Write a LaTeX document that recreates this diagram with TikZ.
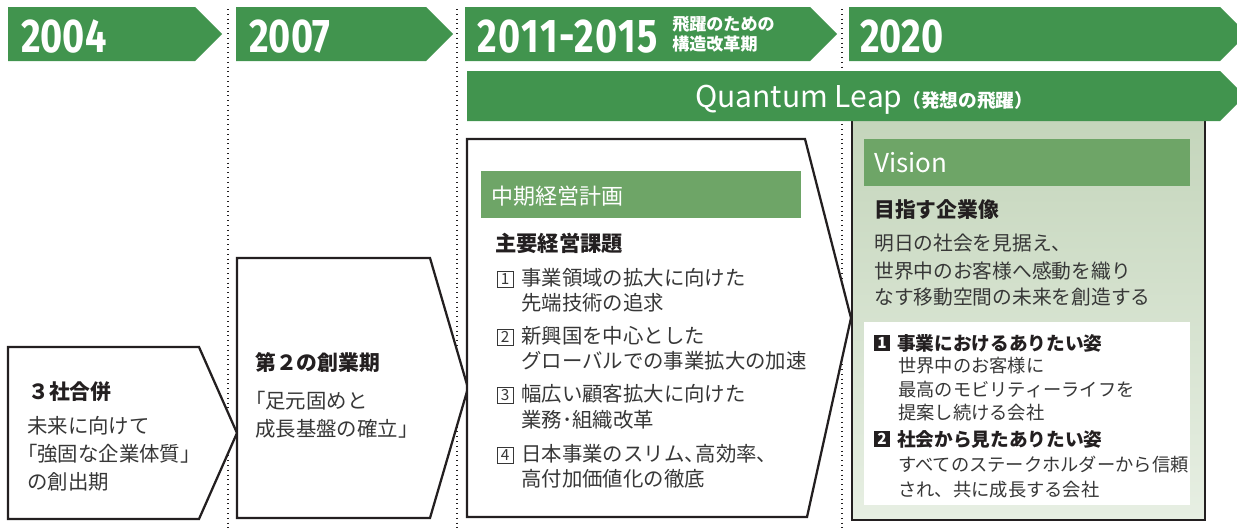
\documentclass[tikz,border=0pt]{standalone}
\usepackage{fontspec}
\setmainfont{Noto Sans CJK JP}
\newfontfamily\yrfont{Fira Sans}[FakeStretch=0.8]
\definecolor{hgreen}{RGB}{65,148,78}
\definecolor{sgreen}{RGB}{110,165,103}
\definecolor{ptop}{RGB}{196,213,187}
\definecolor{pbot}{RGB}{231,239,227}
\definecolor{ink}{RGB}{35,31,32}
\definecolor{txt}{RGB}{55,55,55}
\newcommand\fsz[1]{\fontsize{#1}{#1}\selectfont}
\begin{document}
\begin{tikzpicture}[x=0.75pt,y=-0.75pt,
  hdr/.style={fill=hgreen},
  sepline/.style={draw=ink, line width=0.9pt, dash pattern=on 0.8pt off 2.8pt},
  boxline/.style={draw=ink, line width=1.7pt, fill=white, line join=miter},
  yrtext/.style={anchor=base west, inner sep=0, text=white, font=\yrfont\bfseries\fsz{35.5}},
  ln/.style={anchor=west, inner sep=0, text=txt, font=\fsz{15.3}},
  lnb/.style={anchor=west, inner sep=0, text=ink, font=\bfseries\fsz{15.6}},
  sm/.style={anchor=west, inner sep=0, text=txt, font=\fsz{13.7}},
  smb/.style={anchor=west, inner sep=0, text=ink, font=\bfseries\fsz{14}},
  numbox/.style={draw=txt, line width=0.55pt, minimum size=12pt, inner sep=0, text=txt, font=\fsz{11.5}},
  vnum/.style={fill=ink, text=white, minimum size=12.5pt, inner sep=0, font=\bfseries\fsz{11.5}},
]
\useasboundingbox (0,0) rectangle (1237,529);
\clip (0,0) rectangle (1237,529);

% dotted separators
\draw[sepline] (228,9) -- (228,529);
\draw[sepline] (457,9) -- (457,529);
\draw[sepline] (842,9) -- (842,529);

% year headers
\fill[hdr] (8,7) -- (195,7) -- (222,34) -- (195,61) -- (8,61) -- cycle;
\fill[hdr] (236,7) -- (426,7) -- (453,34) -- (426,61) -- (236,61) -- cycle;
\fill[hdr] (465,7) -- (810,7) -- (837,34) -- (810,61) -- (465,61) -- cycle;
\fill[hdr] (849,7) -- (1220,7) -- (1247,34) -- (1220,61) -- (849,61) -- cycle;
\node[yrtext] (y04) at (21,52) {2004};
\node[yrtext] (y07) at (249,52) {2007};
\node[yrtext] (y11) at (477,52) {\addfontfeature{LetterSpace=3.5}2011-2015};
\node[anchor=west, inner sep=0, text=white, align=left,
      font=\bfseries\fontsize{12.8}{15}\selectfont] (y11a) at (672,34) {飛躍のための\\構造改革期};
\node[yrtext] (y20) at (860,52) {2020};

% Vision panel
\fill[top color=ptop, bottom color=pbot] (852,115) rectangle (1205,520);
\draw[ink, line width=1.7pt] (852,115) -- (852,520) -- (1205,520) -- (1205,115);

% Quantum Leap bar
\fill[hdr] (467,71) -- (1220,71) -- (1245,96) -- (1220,121) -- (467,121) -- cycle;
\node[anchor=base west, inner sep=0, text=white, font=\fsz{22.5}] (ql) at (695,107)
  {Quantum Leap{\bfseries\fsz{14}（発想の飛躍）}};

% 2004 box
\draw[boxline] (8,347) -- (199,347) -- (237,433) -- (199,519) -- (8,519) -- cycle;
\node[lnb] (b04h) at (28,392) {３社合併};
\node[ln] (b04a) at (27,426) {未来に向けて};
\node[ln] (b04b) at (27,454) {\kern-0.5em「強固な企業体質」};
\node[ln] (b04c) at (27,482) {の創出期};

% 2007 box
\draw[boxline] (237,258) -- (430,258) -- (468,388) -- (430,518) -- (237,518) -- cycle;
\node[lnb] (b07h) at (255,363) {第２の創業期};
\node[ln] (b07a) at (255,401) {\kern-0.5em「足元固めと};
\node[ln] (b07b) at (255,429) {成長基盤の確立」};

% 2011-2015 box
\draw[boxline] (467,139) -- (805,139) -- (851,318) -- (807,517) -- (467,517) -- cycle;
\fill[sgreen] (481,171) rectangle (801,218);
\node[anchor=west, inner sep=0, text=white, font=\fsz{16.5}] (mh) at (491,196) {中期経営計画};
\node[anchor=west, inner sep=0, text=ink, font=\bfseries\fsz{16}] (mt) at (495,243) {主要経営課題};
\node[numbox] (m1n) at (505,279) {1};
\node[ln] (m1a) at (521,278) {事業領域の拡大に向けた};
\node[ln] (m1b) at (521,303) {先端技術の追求};
\node[numbox] (m2n) at (505,337) {2};
\node[ln] (m2a) at (521,336) {新興国を中心とした};
\node[ln] (m2b) at (521,361) {グローバルでの事業拡大の加速};
\node[numbox] (m3n) at (505,395) {3};
\node[ln] (m3a) at (521,394) {幅広い顧客拡大に向けた};
\node[ln] (m3b) at (521,420) {業務･組織改革};
\node[numbox] (m4n) at (505,455) {4};
\node[ln] (m4a) at (521,454) {日本事業のスリム、\kern-0.45em高効率、};
\node[ln] (m4b) at (521,479) {高付加価値化の徹底};

% Vision contents
\fill[sgreen] (864,139) rectangle (1190,186);
\node[anchor=base west, inner sep=0, text=white, font=\fsz{19.5}] (vh) at (874,172) {Vision};
\node[lnb] (vt) at (874,210) {目指す企業像};
\node[ln, font=\fsz{14.8}] (v1) at (874,243) {明日の社会を見据え、};
\node[ln, font=\fsz{14.8}] (v2) at (874,271) {世界中のお客様へ感動を織り};
\node[ln, font=\fsz{14.8}] (v3) at (874,297) {なす移動空間の未来を創造する};
\fill[white] (864,322) rectangle (1190,505);
\node[vnum] (w1n) at (882,343) {1};
\node[smb] (w1h) at (897,343) {事業におけるありたい姿};
\node[sm] (w1a) at (898,366) {世界中のお客様に};
\node[sm] (w1b) at (898,390) {最高のモビリティーライフを};
\node[sm] (w1c) at (898,413) {提案し続ける会社};
\node[vnum] (w2n) at (882,439) {2};
\node[smb] (w2h) at (897,439) {社会から見たありたい姿};
\node[sm] (w2a) at (898,465) {すべてのステークホルダーから信頼};
\node[sm] (w2b) at (898,490) {され、共に成長する会社};
\end{tikzpicture}
\end{document}
